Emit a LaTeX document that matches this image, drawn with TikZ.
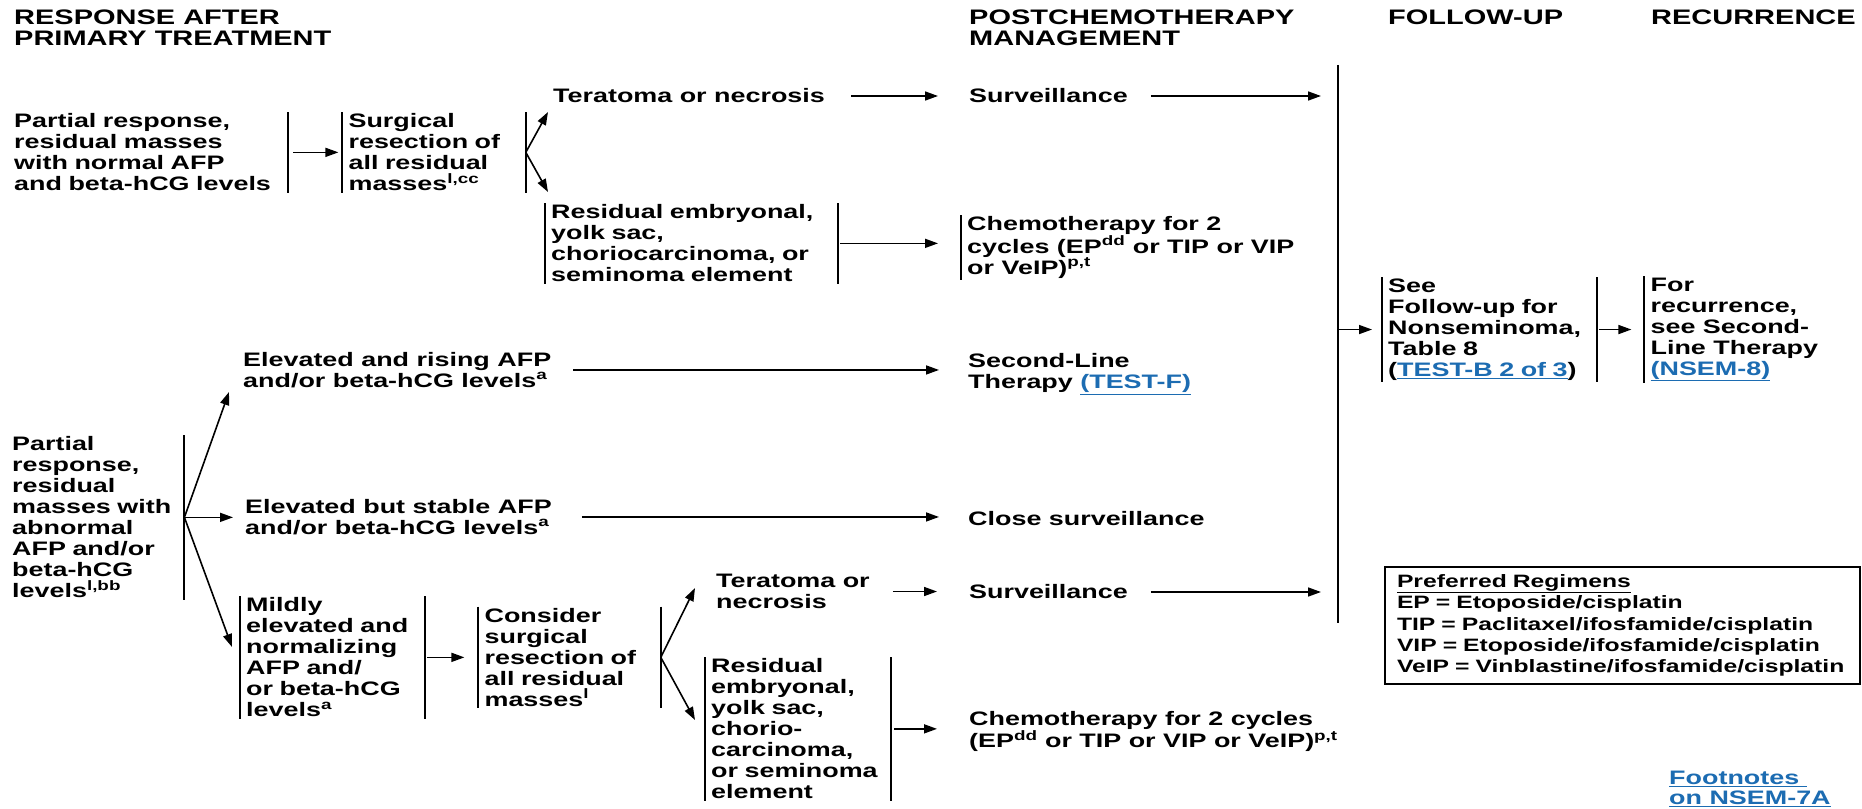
\documentclass[tikz,border=0pt]{standalone}
\usepackage{fontspec}
\setmainfont{Liberation Sans}[FakeStretch=1.38]
\usepackage{tikz}
\usetikzlibrary{positioning, arrows.meta}

\definecolor{linkblue}{RGB}{28,108,178}
\newcommand{\nfont}{\fontsize{19.5}{21}\selectfont\bfseries}
\newcommand{\hfont}{\fontsize{21}{21}\selectfont\bfseries}
\newcommand{\bfont}{\fontsize{17.9}{21.3}\selectfont\bfseries}
\newcommand{\lnk}[1]{\textcolor{linkblue}{\underline{#1}}}

\tikzset{
    txt/.style={font=\nfont, align=left, anchor=north west, inner xsep=6pt, inner ysep=1.5pt},
    plain/.style={font=\nfont, align=left, inner sep=0pt},
    hdr/.style={plain, font=\hfont, anchor=north west},
    bar/.style={line width=2.1pt},
    arr/.style={line width=1.6pt, -{Triangle[length=13pt, width=9pt]}}
}

\begin{document}
\begin{tikzpicture}[x=1pt, y=-1pt]

    \useasboundingbox (0,0) rectangle (1862,808);
    \fill[white] (0,0) rectangle (1862,808);

    % Headings

    \node[hdr] (hResp) at (14,10) {RESPONSE AFTER\\PRIMARY TREATMENT};
    \node[hdr] (hPost) at (969,10) {POSTCHEMOTHERAPY\\MANAGEMENT};
    \node[hdr] (hFollow) at (1388,10) {FOLLOW-UP};
    \node[hdr] (hRecur) at (1651,10) {RECURRENCE};

    % Nodes: normal markers

    \node[txt, text width=268pt] (respNorm) at (8,112) {Partial response,\\residual masses\\with normal AFP\\and beta-hCG levels};
    \node[txt, text width=171pt, right=54pt of respNorm] (surgRes) {Surgical\\resection of\\all residual\\masses\textsuperscript{l,cc}};
    \node[plain, anchor=west] (teraA) at (553,96) {Teratoma or necrosis};
    \node[plain, anchor=west] (survA) at (969,96) {Surveillance};
    \node[txt, text width=281pt] (residA) at (545,203) {Residual embryonal,\\yolk sac,\\choriocarcinoma, or\\seminoma element};
    \node[txt] (chemoA) at (961,215) {Chemotherapy for 2\\cycles (EP\textsuperscript{dd} or TIP or VIP\\or VeIP)\textsuperscript{p,t}};

    % Nodes: abnormal markers

    \node[txt, text width=166pt] (respAbn) at (6,435) {Partial\\response,\\residual\\masses with\\abnormal\\AFP and/or\\beta-hCG\\levels\textsuperscript{l,bb}};
    \node[plain, anchor=north west] (elevRise) at (243,352) {Elevated and rising AFP\\and/or beta-hCG levels\textsuperscript{a}};
    \node[plain, anchor=north west] (secLine) at (968,353) {Second-Line\\Therapy \lnk{(TEST-F)}};
    \node[plain, anchor=north west] (elevStab) at (245,499) {Elevated but stable AFP\\and/or beta-hCG levels\textsuperscript{a}};
    \node[plain, anchor=west] (closeSurv) at (968,519) {Close surveillance};
    \node[txt, text width=173pt] (mildly) at (240,596) {Mildly\\elevated and\\normalizing\\AFP and/\\or beta-hCG\\levels\textsuperscript{a}};
    \node[txt, text width=170pt, right=53pt of mildly] (consider) {Consider\\surgical\\resection of\\all residual\\masses\textsuperscript{l}};
    \node[plain, anchor=north west] (teraB) at (716,574) {Teratoma or\\necrosis};
    \node[plain, anchor=west] (survB) at (969,592) {Surveillance};
    \node[txt, text width=174pt] (residB) at (705,657) {Residual\\embryonal,\\yolk sac,\\chorio-\\carcinoma,\\or seminoma\\element};
    \node[plain, anchor=north west] (chemoB) at (969,711) {Chemotherapy for 2 cycles\\(EP\textsuperscript{dd} or TIP or VIP or VeIP)\textsuperscript{p,t}};

    % Nodes: follow-up and recurrence

    \node[inner sep=0pt, minimum width=0pt, minimum height=558pt] (fbar) at (1338,344) {};
    \node[txt, text width=203pt] (seeFU) at (1382,277) {See\\Follow-up for\\Nonseminoma,\\Table 8\\(\lnk{TEST-B 2 of 3})};
    \node[txt, right=47pt of seeFU] (recurr) {For\\recurrence,\\see Second-\\Line Therapy\\\lnk{(NSEM-8)}};
    \node[draw, line width=2pt, anchor=north west, font=\bfont, align=left, text width=451pt, inner xsep=12pt, inner ysep=7.5pt] (regim) at (1384,566) {\underline{Preferred Regimens}\\EP = Etoposide/cisplatin\\TIP = Paclitaxel/ifosfamide/cisplatin\\VIP = Etoposide/ifosfamide/cisplatin\\VeIP = Vinblastine/ifosfamide/cisplatin};
    \node[plain, anchor=north west, text=linkblue] (foot) at (1669,771) {\underline{Footnotes\ }\\[-1pt]\underline{on NSEM-7A}};

    % Bars

    \foreach \n in {respNorm, surgRes, residA, respAbn, mildly, consider, residB, seeFU}
        \draw[bar] (\n.north east) -- (\n.south east);
    \foreach \n in {surgRes, residA, chemoA, mildly, consider, residB, seeFU, recurr}
        \draw[bar] (\n.north west) -- (\n.south west);
    \draw[bar] (fbar.north) -- (fbar.south);

    % Edges

    \coordinate (forkA1) at (548,112);
    \coordinate (forkA2) at (548,192);
    \coordinate (forkB1) at (229,392);
    \coordinate (forkB2) at (232,647);
    \coordinate (forkC1) at (695,588);
    \coordinate (forkC2) at (695,720);

    \draw[arr, shorten <=5pt, shorten >=4pt] (respNorm) -- (surgRes);
    \draw[arr] (surgRes.east) -- (forkA1);
    \draw[arr] (surgRes.east) -- (forkA2);
    \draw[arr, shorten <=26pt, shorten >=31pt] (teraA) -- (survA);
    \draw[arr, shorten <=23pt, shorten >=17pt] (survA.east) -- (survA.east -| fbar);
    \draw[arr, shorten <=2pt, shorten >=23pt] (residA.east) -- (residA.east -| chemoA.west);

    \draw[arr] (respAbn.east) -- (forkB1);
    \draw[arr, shorten >=12pt] (respAbn.east) -- (respAbn.east -| elevStab.west);
    \draw[arr] (respAbn.east) -- (forkB2);
    \draw[arr, shorten <=22pt, shorten >=29pt] (elevRise.east) -- (elevRise.east -| secLine.west);
    \draw[arr, shorten <=30pt, shorten >=29pt] (elevStab.east) -- (elevStab.east -| closeSurv.west);
    \draw[arr, shorten <=2pt, shorten >=14pt] (mildly) -- (consider);
    \draw[arr] (consider.east) -- (forkC1);
    \draw[arr] (consider.east) -- (forkC2);
    \draw[arr, shorten <=23pt, shorten >=32pt] (teraB.east) -- (teraB.east -| survB.west);
    \draw[arr, shorten <=23pt, shorten >=17pt] (survB.east) -- (survB.east -| fbar);
    \draw[arr, shorten <=3pt, shorten >=32pt] (residB.east) -- (residB.east -| chemoB.west);

    \draw[arr, shorten >=10pt] (fbar |- seeFU.west) -- (seeFU.west);
    \draw[arr, shorten <=2pt, shorten >=13pt] (seeFU) -- (recurr);

\end{tikzpicture}
\end{document}
